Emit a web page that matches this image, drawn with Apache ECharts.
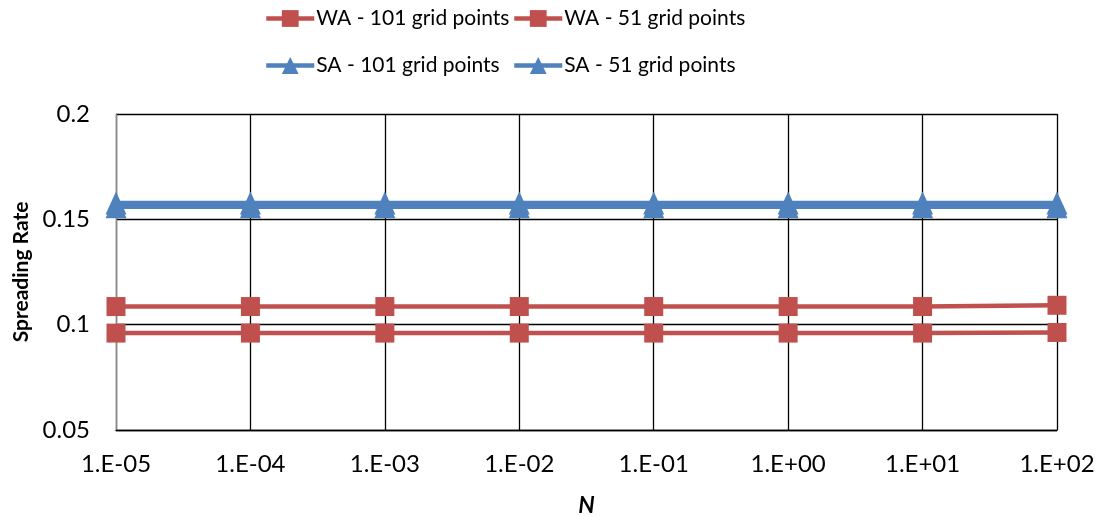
<!DOCTYPE html>
<html><head><meta charset="utf-8">
<script src="https://cdn.jsdelivr.net/npm/echarts@6/dist/echarts.min.js"></script>
<style>html,body{margin:0;padding:0;background:#fff}#c{width:1099px;height:516px}</style>
</head><body><div id="c"></div>
<script>
const categories = ['1.E-05','1.E-04','1.E-03','1.E-02','1.E-01','1.E+00','1.E+01','1.E+02'];
const wa101 = [0.1086,0.1086,0.1086,0.1086,0.1086,0.1086,0.1086,0.1092];
const wa51  = [0.0960,0.0960,0.0960,0.0960,0.0960,0.0960,0.0960,0.0963];
const sa101 = [0.1560,0.1560,0.1560,0.1560,0.1560,0.1560,0.1560,0.1560];
const sa51  = [0.1578,0.1578,0.1578,0.1578,0.1578,0.1578,0.1578,0.1578];
const yTicks = {min:0.05, max:0.2, interval:0.05};

const FONT = "Lato";
const RED = '#C0504D', BLUE = '#4F81BD';
const chart = echarts.init(document.getElementById('c'), null, {renderer:'canvas'});
function legend(name, left, top){
  return {data:[name], left:left, top:top, padding:0, itemWidth:48, itemHeight:21, itemGap:0,
    lineStyle:{width:4.5},
    textStyle:{fontFamily:FONT, fontSize:21, color:'#000', padding:[0,0,0,-3]}};
}
function ser(name, data, color, symbol, size){
  return {name:name, type:'line', data:data, symbol:symbol, symbolSize:size,
    lineStyle:{color:color, width:4.5}, itemStyle:{color:color}, animation:false};
}
chart.setOption({
  animation:false,
  legend:[legend('WA - 101 grid points',264,8), legend('WA - 51 grid points',512,8),
          legend('SA - 101 grid points',264,55), legend('SA - 51 grid points',512,55)],
  grid:{left:116, right:42, top:114, bottom:86, containLabel:false, outerBoundsMode:'none'},
  xAxis:{type:'category', data:categories, boundaryGap:false,
    name:'N', nameLocation:'middle', nameGap:64,
    nameTextStyle:{fontFamily:FONT, fontSize:23, fontWeight:'bold', fontStyle:'italic', color:'#000'},
    axisLine:{show:true, lineStyle:{color:'#000', width:1.3}}, axisTick:{show:false},
    axisLabel:{fontFamily:FONT, fontSize:24, color:'#000', margin:22},
    splitLine:{show:true, lineStyle:{color:'#000', width:1.3}}},
  yAxis:{type:'value', min:yTicks.min, max:yTicks.max, interval:yTicks.interval,
    name:'Spreading Rate', nameLocation:'middle', nameGap:84,
    nameTextStyle:{fontFamily:FONT, fontSize:21, fontWeight:'bold', color:'#000'},
    axisLine:{show:true, lineStyle:{color:'#888', width:1.3}}, axisTick:{show:false},
    axisLabel:{fontFamily:FONT, fontSize:24, color:'#000', margin:26},
    splitLine:{show:true, lineStyle:{color:'#000', width:1.3}}},
  series:[ser('WA - 101 grid points', wa101, RED, 'rect', 19),
          ser('WA - 51 grid points', wa51, RED, 'rect', 19),
          ser('SA - 101 grid points', sa101, BLUE, 'triangle', [21,23]),
          ser('SA - 51 grid points', sa51, BLUE, 'triangle', [21,23])]
});
</script></body></html>
